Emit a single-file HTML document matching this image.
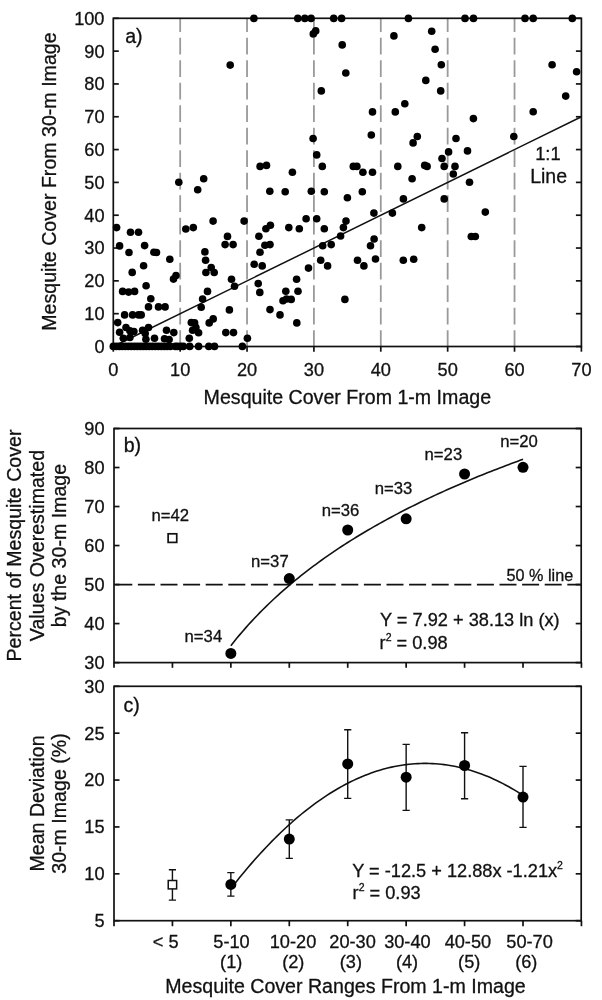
<!DOCTYPE html>
<html><head><meta charset="utf-8"><title>Figure</title>
<style>html,body{margin:0;padding:0;background:#fff;} svg{display:block;will-change:transform;} text{font-family:"Liberation Sans",sans-serif;stroke:#111;stroke-width:0.3px;}</style>
</head><body>
<svg width="602" height="1000" viewBox="0 0 602 1000"><line x1="180.17" y1="346.50" x2="180.17" y2="18.30" stroke="#9a9a9a" stroke-width="1.8" stroke-dasharray="16.8 5.7" stroke-dashoffset="0.6"/>
<line x1="247.04" y1="346.50" x2="247.04" y2="18.30" stroke="#9a9a9a" stroke-width="1.8" stroke-dasharray="16.8 5.7" stroke-dashoffset="0.6"/>
<line x1="313.91" y1="346.50" x2="313.91" y2="18.30" stroke="#9a9a9a" stroke-width="1.8" stroke-dasharray="16.8 5.7" stroke-dashoffset="0.6"/>
<line x1="380.79" y1="346.50" x2="380.79" y2="18.30" stroke="#9a9a9a" stroke-width="1.8" stroke-dasharray="16.8 5.7" stroke-dashoffset="0.6"/>
<line x1="447.66" y1="346.50" x2="447.66" y2="18.30" stroke="#9a9a9a" stroke-width="1.8" stroke-dasharray="16.8 5.7" stroke-dashoffset="0.6"/>
<line x1="514.53" y1="346.50" x2="514.53" y2="18.30" stroke="#9a9a9a" stroke-width="1.8" stroke-dasharray="16.8 5.7" stroke-dashoffset="0.6"/>
<line x1="113.30" y1="346.50" x2="581.40" y2="116.76" stroke="#111" stroke-width="1.5"/>
<rect x="113.30" y="18.30" width="468.10" height="328.20" fill="none" stroke="#111" stroke-width="1.7"/>
<line x1="113.30" y1="346.50" x2="118.80" y2="346.50" stroke="#111" stroke-width="1.7"/>
<line x1="581.40" y1="346.50" x2="575.90" y2="346.50" stroke="#111" stroke-width="1.7"/>
<text x="104.5" y="352.90" text-anchor="end" font-size="18.2" font-family="Liberation Sans, sans-serif" fill="#111">0</text>
<line x1="113.30" y1="313.68" x2="118.80" y2="313.68" stroke="#111" stroke-width="1.7"/>
<line x1="581.40" y1="313.68" x2="575.90" y2="313.68" stroke="#111" stroke-width="1.7"/>
<text x="104.5" y="320.08" text-anchor="end" font-size="18.2" font-family="Liberation Sans, sans-serif" fill="#111">10</text>
<line x1="113.30" y1="280.86" x2="118.80" y2="280.86" stroke="#111" stroke-width="1.7"/>
<line x1="581.40" y1="280.86" x2="575.90" y2="280.86" stroke="#111" stroke-width="1.7"/>
<text x="104.5" y="287.26" text-anchor="end" font-size="18.2" font-family="Liberation Sans, sans-serif" fill="#111">20</text>
<line x1="113.30" y1="248.04" x2="118.80" y2="248.04" stroke="#111" stroke-width="1.7"/>
<line x1="581.40" y1="248.04" x2="575.90" y2="248.04" stroke="#111" stroke-width="1.7"/>
<text x="104.5" y="254.44" text-anchor="end" font-size="18.2" font-family="Liberation Sans, sans-serif" fill="#111">30</text>
<line x1="113.30" y1="215.22" x2="118.80" y2="215.22" stroke="#111" stroke-width="1.7"/>
<line x1="581.40" y1="215.22" x2="575.90" y2="215.22" stroke="#111" stroke-width="1.7"/>
<text x="104.5" y="221.62" text-anchor="end" font-size="18.2" font-family="Liberation Sans, sans-serif" fill="#111">40</text>
<line x1="113.30" y1="182.40" x2="118.80" y2="182.40" stroke="#111" stroke-width="1.7"/>
<line x1="581.40" y1="182.40" x2="575.90" y2="182.40" stroke="#111" stroke-width="1.7"/>
<text x="104.5" y="188.80" text-anchor="end" font-size="18.2" font-family="Liberation Sans, sans-serif" fill="#111">50</text>
<line x1="113.30" y1="149.58" x2="118.80" y2="149.58" stroke="#111" stroke-width="1.7"/>
<line x1="581.40" y1="149.58" x2="575.90" y2="149.58" stroke="#111" stroke-width="1.7"/>
<text x="104.5" y="155.98" text-anchor="end" font-size="18.2" font-family="Liberation Sans, sans-serif" fill="#111">60</text>
<line x1="113.30" y1="116.76" x2="118.80" y2="116.76" stroke="#111" stroke-width="1.7"/>
<line x1="581.40" y1="116.76" x2="575.90" y2="116.76" stroke="#111" stroke-width="1.7"/>
<text x="104.5" y="123.16" text-anchor="end" font-size="18.2" font-family="Liberation Sans, sans-serif" fill="#111">70</text>
<line x1="113.30" y1="83.94" x2="118.80" y2="83.94" stroke="#111" stroke-width="1.7"/>
<line x1="581.40" y1="83.94" x2="575.90" y2="83.94" stroke="#111" stroke-width="1.7"/>
<text x="104.5" y="90.34" text-anchor="end" font-size="18.2" font-family="Liberation Sans, sans-serif" fill="#111">80</text>
<line x1="113.30" y1="51.12" x2="118.80" y2="51.12" stroke="#111" stroke-width="1.7"/>
<line x1="581.40" y1="51.12" x2="575.90" y2="51.12" stroke="#111" stroke-width="1.7"/>
<text x="104.5" y="57.52" text-anchor="end" font-size="18.2" font-family="Liberation Sans, sans-serif" fill="#111">90</text>
<line x1="113.30" y1="18.30" x2="118.80" y2="18.30" stroke="#111" stroke-width="1.7"/>
<line x1="581.40" y1="18.30" x2="575.90" y2="18.30" stroke="#111" stroke-width="1.7"/>
<text x="104.5" y="24.70" text-anchor="end" font-size="18.2" font-family="Liberation Sans, sans-serif" fill="#111">100</text>
<line x1="113.30" y1="346.50" x2="113.30" y2="351.70" stroke="#111" stroke-width="1.7"/>
<text x="113.30" y="376.3" text-anchor="middle" font-size="18.2" font-family="Liberation Sans, sans-serif" fill="#111">0</text>
<line x1="180.17" y1="346.50" x2="180.17" y2="351.70" stroke="#111" stroke-width="1.7"/>
<text x="180.17" y="376.3" text-anchor="middle" font-size="18.2" font-family="Liberation Sans, sans-serif" fill="#111">10</text>
<line x1="247.04" y1="346.50" x2="247.04" y2="351.70" stroke="#111" stroke-width="1.7"/>
<text x="247.04" y="376.3" text-anchor="middle" font-size="18.2" font-family="Liberation Sans, sans-serif" fill="#111">20</text>
<line x1="313.91" y1="346.50" x2="313.91" y2="351.70" stroke="#111" stroke-width="1.7"/>
<text x="313.91" y="376.3" text-anchor="middle" font-size="18.2" font-family="Liberation Sans, sans-serif" fill="#111">30</text>
<line x1="380.79" y1="346.50" x2="380.79" y2="351.70" stroke="#111" stroke-width="1.7"/>
<text x="380.79" y="376.3" text-anchor="middle" font-size="18.2" font-family="Liberation Sans, sans-serif" fill="#111">40</text>
<line x1="447.66" y1="346.50" x2="447.66" y2="351.70" stroke="#111" stroke-width="1.7"/>
<text x="447.66" y="376.3" text-anchor="middle" font-size="18.2" font-family="Liberation Sans, sans-serif" fill="#111">50</text>
<line x1="514.53" y1="346.50" x2="514.53" y2="351.70" stroke="#111" stroke-width="1.7"/>
<text x="514.53" y="376.3" text-anchor="middle" font-size="18.2" font-family="Liberation Sans, sans-serif" fill="#111">60</text>
<line x1="581.40" y1="346.50" x2="581.40" y2="351.70" stroke="#111" stroke-width="1.7"/>
<text x="581.40" y="376.3" text-anchor="middle" font-size="18.2" font-family="Liberation Sans, sans-serif" fill="#111">70</text>
<text x="347.35" y="403.6" text-anchor="middle" font-size="19.6" font-family="Liberation Sans, sans-serif" fill="#111">Mesquite Cover From 1-m Image</text>
<text transform="translate(56.3,181.6) rotate(-90)" x="0" y="0" text-anchor="middle" font-size="19.6" font-family="Liberation Sans, sans-serif" fill="#111">Mesquite Cover From 30-m Image</text>
<text x="125.2" y="43.1" font-size="19.6" font-family="Liberation Sans, sans-serif" fill="#111">a)</text>
<text x="547.9" y="160.3" text-anchor="middle" font-size="18.3" font-family="Liberation Sans, sans-serif" fill="#111">1:1</text>
<text x="548.6" y="183" text-anchor="middle" font-size="19.5" font-family="Liberation Sans, sans-serif" fill="#111">Line</text>
<g fill="#000"><circle cx="253.9" cy="18.4" r="3.8"/><circle cx="297.8" cy="18.4" r="3.8"/><circle cx="304.8" cy="18.4" r="3.8"/><circle cx="311.1" cy="18.4" r="3.8"/><circle cx="333.7" cy="18.4" r="3.8"/><circle cx="341.6" cy="18.4" r="3.8"/><circle cx="408.4" cy="18.4" r="3.8"/><circle cx="465.0" cy="18.4" r="3.8"/><circle cx="473.5" cy="18.4" r="3.8"/><circle cx="525.0" cy="18.4" r="3.8"/><circle cx="533.2" cy="18.4" r="3.8"/><circle cx="572.3" cy="18.4" r="3.8"/><circle cx="230.2" cy="65.1" r="3.8"/><circle cx="315.7" cy="30.9" r="3.8"/><circle cx="313.3" cy="33.9" r="3.8"/><circle cx="342.2" cy="44.9" r="3.8"/><circle cx="345.8" cy="73.0" r="3.8"/><circle cx="321.3" cy="90.9" r="3.8"/><circle cx="393.9" cy="35.9" r="3.8"/><circle cx="431.7" cy="31.3" r="3.8"/><circle cx="435.1" cy="49.3" r="3.8"/><circle cx="441.3" cy="64.8" r="3.8"/><circle cx="425.8" cy="80.4" r="3.8"/><circle cx="440.7" cy="90.9" r="3.8"/><circle cx="404.8" cy="103.7" r="3.8"/><circle cx="395.3" cy="111.9" r="3.8"/><circle cx="372.5" cy="111.9" r="3.8"/><circle cx="552.1" cy="64.8" r="3.8"/><circle cx="576.6" cy="71.8" r="3.8"/><circle cx="565.7" cy="96.1" r="3.8"/><circle cx="533.2" cy="111.7" r="3.8"/><circle cx="473.4" cy="118.6" r="3.8"/><circle cx="178.8" cy="182.2" r="3.8"/><circle cx="203.7" cy="178.8" r="3.8"/><circle cx="197.7" cy="189.8" r="3.8"/><circle cx="116.6" cy="227.6" r="3.8"/><circle cx="130.5" cy="232.2" r="3.8"/><circle cx="138.5" cy="232.2" r="3.8"/><circle cx="185.8" cy="229.0" r="3.8"/><circle cx="193.3" cy="227.6" r="3.8"/><circle cx="213.1" cy="221.1" r="3.8"/><circle cx="227.5" cy="236.4" r="3.8"/><circle cx="313.1" cy="138.5" r="3.8"/><circle cx="316.7" cy="154.9" r="3.8"/><circle cx="322.3" cy="166.4" r="3.8"/><circle cx="260.1" cy="166.4" r="3.8"/><circle cx="266.5" cy="165.4" r="3.8"/><circle cx="292.4" cy="172.2" r="3.8"/><circle cx="269.8" cy="191.2" r="3.8"/><circle cx="285.2" cy="191.8" r="3.8"/><circle cx="311.3" cy="191.2" r="3.8"/><circle cx="324.3" cy="191.8" r="3.8"/><circle cx="244.1" cy="221.1" r="3.8"/><circle cx="270.4" cy="225.2" r="3.8"/><circle cx="265.9" cy="228.8" r="3.8"/><circle cx="288.8" cy="227.6" r="3.8"/><circle cx="299.3" cy="228.8" r="3.8"/><circle cx="306.1" cy="218.7" r="3.8"/><circle cx="316.7" cy="218.7" r="3.8"/><circle cx="324.3" cy="228.8" r="3.8"/><circle cx="258.9" cy="236.2" r="3.8"/><circle cx="371.3" cy="135.0" r="3.8"/><circle cx="417.3" cy="136.5" r="3.8"/><circle cx="413.1" cy="142.9" r="3.8"/><circle cx="456.0" cy="138.5" r="3.8"/><circle cx="448.6" cy="151.9" r="3.8"/><circle cx="442.0" cy="158.5" r="3.8"/><circle cx="444.2" cy="166.4" r="3.8"/><circle cx="455.0" cy="166.4" r="3.8"/><circle cx="453.3" cy="174.0" r="3.8"/><circle cx="353.3" cy="166.4" r="3.8"/><circle cx="356.9" cy="166.4" r="3.8"/><circle cx="362.9" cy="172.2" r="3.8"/><circle cx="372.5" cy="172.2" r="3.8"/><circle cx="397.8" cy="166.4" r="3.8"/><circle cx="424.7" cy="165.4" r="3.8"/><circle cx="427.1" cy="166.4" r="3.8"/><circle cx="412.1" cy="178.8" r="3.8"/><circle cx="347.4" cy="197.7" r="3.8"/><circle cx="362.3" cy="191.8" r="3.8"/><circle cx="403.4" cy="198.9" r="3.8"/><circle cx="444.2" cy="198.9" r="3.8"/><circle cx="373.9" cy="213.1" r="3.8"/><circle cx="392.4" cy="213.1" r="3.8"/><circle cx="346.0" cy="221.1" r="3.8"/><circle cx="343.4" cy="227.6" r="3.8"/><circle cx="340.6" cy="236.0" r="3.8"/><circle cx="421.7" cy="227.6" r="3.8"/><circle cx="467.5" cy="150.9" r="3.8"/><circle cx="513.8" cy="136.5" r="3.8"/><circle cx="469.5" cy="182.2" r="3.8"/><circle cx="485.3" cy="212.1" r="3.8"/><circle cx="471.3" cy="236.5" r="3.8"/><circle cx="475.3" cy="236.5" r="3.8"/><circle cx="119.6" cy="245.9" r="3.8"/><circle cx="144.6" cy="245.6" r="3.8"/><circle cx="129.0" cy="252.5" r="3.8"/><circle cx="153.9" cy="252.2" r="3.8"/><circle cx="156.5" cy="252.5" r="3.8"/><circle cx="169.8" cy="259.2" r="3.8"/><circle cx="143.6" cy="265.8" r="3.8"/><circle cx="132.2" cy="272.4" r="3.8"/><circle cx="176.0" cy="275.5" r="3.8"/><circle cx="173.5" cy="279.1" r="3.8"/><circle cx="146.1" cy="285.7" r="3.8"/><circle cx="122.6" cy="291.4" r="3.8"/><circle cx="128.6" cy="292.1" r="3.8"/><circle cx="134.6" cy="291.4" r="3.8"/><circle cx="150.8" cy="298.8" r="3.8"/><circle cx="148.5" cy="306.9" r="3.8"/><circle cx="158.5" cy="306.9" r="3.8"/><circle cx="165.1" cy="306.9" r="3.8"/><circle cx="124.6" cy="314.9" r="3.8"/><circle cx="132.6" cy="314.9" r="3.8"/><circle cx="138.6" cy="314.9" r="3.8"/><circle cx="141.2" cy="314.9" r="3.8"/><circle cx="117.7" cy="322.6" r="3.8"/><circle cx="126.0" cy="327.5" r="3.8"/><circle cx="129.9" cy="330.8" r="3.8"/><circle cx="133.9" cy="331.5" r="3.8"/><circle cx="119.6" cy="332.2" r="3.8"/><circle cx="123.3" cy="338.2" r="3.8"/><circle cx="129.9" cy="337.5" r="3.8"/><circle cx="142.6" cy="330.2" r="3.8"/><circle cx="148.5" cy="327.5" r="3.8"/><circle cx="145.2" cy="333.5" r="3.8"/><circle cx="145.9" cy="339.2" r="3.8"/><circle cx="154.5" cy="338.2" r="3.8"/><circle cx="164.5" cy="338.8" r="3.8"/><circle cx="169.1" cy="339.5" r="3.8"/><circle cx="166.5" cy="330.2" r="3.8"/><circle cx="173.8" cy="332.6" r="3.8"/><circle cx="207.5" cy="291.4" r="3.8"/><circle cx="202.6" cy="299.0" r="3.8"/><circle cx="201.2" cy="307.3" r="3.8"/><circle cx="234.5" cy="286.3" r="3.8"/><circle cx="229.4" cy="309.9" r="3.8"/><circle cx="213.2" cy="318.9" r="3.8"/><circle cx="209.2" cy="322.9" r="3.8"/><circle cx="191.3" cy="322.6" r="3.8"/><circle cx="194.6" cy="322.9" r="3.8"/><circle cx="195.9" cy="327.5" r="3.8"/><circle cx="192.6" cy="330.2" r="3.8"/><circle cx="198.6" cy="332.8" r="3.8"/><circle cx="189.3" cy="338.2" r="3.8"/><circle cx="225.8" cy="332.6" r="3.8"/><circle cx="233.5" cy="332.6" r="3.8"/><circle cx="247.4" cy="338.2" r="3.8"/><circle cx="225.1" cy="244.6" r="3.8"/><circle cx="233.1" cy="244.6" r="3.8"/><circle cx="204.9" cy="251.9" r="3.8"/><circle cx="205.6" cy="260.3" r="3.8"/><circle cx="211.2" cy="267.6" r="3.8"/><circle cx="205.9" cy="272.5" r="3.8"/><circle cx="214.2" cy="272.5" r="3.8"/><circle cx="231.5" cy="279.2" r="3.8"/><circle cx="264.9" cy="245.3" r="3.8"/><circle cx="270.0" cy="244.6" r="3.8"/><circle cx="260.0" cy="252.3" r="3.8"/><circle cx="254.2" cy="264.3" r="3.8"/><circle cx="262.2" cy="265.9" r="3.8"/><circle cx="258.2" cy="283.6" r="3.8"/><circle cx="259.8" cy="292.4" r="3.8"/><circle cx="322.7" cy="245.7" r="3.8"/><circle cx="320.7" cy="260.3" r="3.8"/><circle cx="327.6" cy="265.9" r="3.8"/><circle cx="308.5" cy="268.1" r="3.8"/><circle cx="296.6" cy="279.2" r="3.8"/><circle cx="285.8" cy="291.2" r="3.8"/><circle cx="298.0" cy="291.2" r="3.8"/><circle cx="283.0" cy="300.7" r="3.8"/><circle cx="286.5" cy="299.0" r="3.8"/><circle cx="291.2" cy="299.4" r="3.8"/><circle cx="270.0" cy="309.6" r="3.8"/><circle cx="280.0" cy="314.9" r="3.8"/><circle cx="296.8" cy="322.9" r="3.8"/><circle cx="331.2" cy="244.6" r="3.8"/><circle cx="374.1" cy="239.0" r="3.8"/><circle cx="370.5" cy="245.7" r="3.8"/><circle cx="357.5" cy="260.3" r="3.8"/><circle cx="363.9" cy="265.9" r="3.8"/><circle cx="375.5" cy="259.0" r="3.8"/><circle cx="344.9" cy="299.4" r="3.8"/><circle cx="403.3" cy="260.3" r="3.8"/><circle cx="413.7" cy="259.3" r="3.8"/><circle cx="113.3" cy="346.4" r="3.8"/><circle cx="116.3" cy="346.4" r="3.8"/><circle cx="119.3" cy="346.4" r="3.8"/><circle cx="122.3" cy="346.4" r="3.8"/><circle cx="125.3" cy="346.4" r="3.8"/><circle cx="128.3" cy="346.4" r="3.8"/><circle cx="131.3" cy="346.4" r="3.8"/><circle cx="134.3" cy="346.4" r="3.8"/><circle cx="137.3" cy="346.4" r="3.8"/><circle cx="140.3" cy="346.4" r="3.8"/><circle cx="143.3" cy="346.4" r="3.8"/><circle cx="146.3" cy="346.4" r="3.8"/><circle cx="149.3" cy="346.4" r="3.8"/><circle cx="152.3" cy="346.4" r="3.8"/><circle cx="155.3" cy="346.4" r="3.8"/><circle cx="158.3" cy="346.4" r="3.8"/><circle cx="161.3" cy="346.4" r="3.8"/><circle cx="164.3" cy="346.4" r="3.8"/><circle cx="167.3" cy="346.4" r="3.8"/><circle cx="170.3" cy="346.4" r="3.8"/><circle cx="175.3" cy="346.4" r="3.8"/><circle cx="177.5" cy="346.4" r="3.8"/><circle cx="180.6" cy="346.4" r="3.8"/><circle cx="183.3" cy="346.4" r="3.8"/><circle cx="189.7" cy="346.4" r="3.8"/><circle cx="198.6" cy="346.4" r="3.8"/><circle cx="208.8" cy="346.4" r="3.8"/><circle cx="214.5" cy="346.4" r="3.8"/><circle cx="242.4" cy="346.4" r="3.8"/></g>
<line x1="114.00" y1="584.57" x2="581.20" y2="584.57" stroke="#111" stroke-width="1.8" stroke-dasharray="17 5.6" stroke-dashoffset="-1.30"/>
<polyline points="230.86,645.63 233.78,641.96 236.70,638.37 239.62,634.87 242.55,631.45 245.47,628.11 248.39,624.84 251.31,621.64 254.23,618.50 257.15,615.44 260.07,612.43 263.00,609.49 265.92,606.60 268.84,603.76 271.76,600.98 274.68,598.25 277.60,595.57 280.53,592.94 283.45,590.35 286.37,587.81 289.29,585.31 292.21,582.85 295.13,580.43 298.05,578.05 300.98,575.71 303.90,573.40 306.82,571.13 309.74,568.89 312.66,566.69 315.58,564.52 318.50,562.37 321.43,560.26 324.35,558.18 327.27,556.13 330.19,554.11 333.11,552.11 336.03,550.14 338.96,548.20 341.88,546.28 344.80,544.38 347.72,542.51 350.64,540.66 353.56,538.84 356.48,537.03 359.41,535.25 362.33,533.49 365.25,531.75 368.17,530.03 371.09,528.33 374.01,526.65 376.94,524.99 379.86,523.34 382.78,521.72 385.70,520.11 388.62,518.52 391.54,516.94 394.46,515.38 397.39,513.84 400.31,512.32 403.23,510.81 406.15,509.31 409.07,507.83 411.99,506.37 414.91,504.91 417.84,503.48 420.76,502.05 423.68,500.64 426.60,499.25 429.52,497.86 432.44,496.49 435.37,495.13 438.29,493.79 441.21,492.45 444.13,491.13 447.05,489.82 449.97,488.52 452.89,487.23 455.82,485.95 458.74,484.69 461.66,483.43 464.58,482.19 467.50,480.95 470.42,479.73 473.34,478.51 476.27,477.31 479.19,476.11 482.11,474.93 485.03,473.75 487.95,472.59 490.87,471.43 493.80,470.28 496.72,469.14 499.64,468.01 502.56,466.89 505.48,465.77 508.40,464.67 511.32,463.57 514.25,462.48 517.17,461.40 520.09,460.32 523.01,459.25" fill="none" stroke="#111" stroke-width="1.6"/>
<rect x="114.00" y="428.50" width="467.20" height="234.10" fill="none" stroke="#111" stroke-width="1.7"/>
<line x1="114.00" y1="662.60" x2="119.50" y2="662.60" stroke="#111" stroke-width="1.7"/>
<line x1="581.20" y1="662.60" x2="575.70" y2="662.60" stroke="#111" stroke-width="1.7"/>
<text x="104.5" y="669.00" text-anchor="end" font-size="18.2" font-family="Liberation Sans, sans-serif" fill="#111">30</text>
<line x1="114.00" y1="623.58" x2="119.50" y2="623.58" stroke="#111" stroke-width="1.7"/>
<line x1="581.20" y1="623.58" x2="575.70" y2="623.58" stroke="#111" stroke-width="1.7"/>
<text x="104.5" y="629.98" text-anchor="end" font-size="18.2" font-family="Liberation Sans, sans-serif" fill="#111">40</text>
<line x1="114.00" y1="584.57" x2="119.50" y2="584.57" stroke="#111" stroke-width="1.7"/>
<line x1="581.20" y1="584.57" x2="575.70" y2="584.57" stroke="#111" stroke-width="1.7"/>
<text x="104.5" y="590.97" text-anchor="end" font-size="18.2" font-family="Liberation Sans, sans-serif" fill="#111">50</text>
<line x1="114.00" y1="545.55" x2="119.50" y2="545.55" stroke="#111" stroke-width="1.7"/>
<line x1="581.20" y1="545.55" x2="575.70" y2="545.55" stroke="#111" stroke-width="1.7"/>
<text x="104.5" y="551.95" text-anchor="end" font-size="18.2" font-family="Liberation Sans, sans-serif" fill="#111">60</text>
<line x1="114.00" y1="506.53" x2="119.50" y2="506.53" stroke="#111" stroke-width="1.7"/>
<line x1="581.20" y1="506.53" x2="575.70" y2="506.53" stroke="#111" stroke-width="1.7"/>
<text x="104.5" y="512.93" text-anchor="end" font-size="18.2" font-family="Liberation Sans, sans-serif" fill="#111">70</text>
<line x1="114.00" y1="467.52" x2="119.50" y2="467.52" stroke="#111" stroke-width="1.7"/>
<line x1="581.20" y1="467.52" x2="575.70" y2="467.52" stroke="#111" stroke-width="1.7"/>
<text x="104.5" y="473.92" text-anchor="end" font-size="18.2" font-family="Liberation Sans, sans-serif" fill="#111">80</text>
<line x1="114.00" y1="428.50" x2="119.50" y2="428.50" stroke="#111" stroke-width="1.7"/>
<line x1="581.20" y1="428.50" x2="575.70" y2="428.50" stroke="#111" stroke-width="1.7"/>
<text x="104.5" y="434.90" text-anchor="end" font-size="18.2" font-family="Liberation Sans, sans-serif" fill="#111">90</text>
<line x1="114.00" y1="662.60" x2="114.00" y2="667.80" stroke="#111" stroke-width="1.7"/>
<line x1="172.43" y1="662.60" x2="172.43" y2="667.80" stroke="#111" stroke-width="1.7"/>
<line x1="230.86" y1="662.60" x2="230.86" y2="667.80" stroke="#111" stroke-width="1.7"/>
<line x1="289.29" y1="662.60" x2="289.29" y2="667.80" stroke="#111" stroke-width="1.7"/>
<line x1="347.72" y1="662.60" x2="347.72" y2="667.80" stroke="#111" stroke-width="1.7"/>
<line x1="406.15" y1="662.60" x2="406.15" y2="667.80" stroke="#111" stroke-width="1.7"/>
<line x1="464.58" y1="662.60" x2="464.58" y2="667.80" stroke="#111" stroke-width="1.7"/>
<line x1="523.01" y1="662.60" x2="523.01" y2="667.80" stroke="#111" stroke-width="1.7"/>
<line x1="581.44" y1="662.60" x2="581.44" y2="667.80" stroke="#111" stroke-width="1.7"/>
<rect x="168.13" y="533.80" width="8.6" height="8.6" fill="#fff" stroke="#111" stroke-width="1.7"/>
<circle cx="230.86" cy="653.4" r="5.5" fill="#000"/>
<circle cx="289.29" cy="578.6" r="5.5" fill="#000"/>
<circle cx="347.72" cy="530.0" r="5.5" fill="#000"/>
<circle cx="406.15" cy="518.8" r="5.5" fill="#000"/>
<circle cx="464.58" cy="474.0" r="5.5" fill="#000"/>
<circle cx="523.01" cy="467.3" r="5.5" fill="#000"/>
<text x="170.2" y="520.5" text-anchor="middle" font-size="16.7" font-family="Liberation Sans, sans-serif" fill="#111">n=42</text>
<text x="203.4" y="642.2" text-anchor="middle" font-size="16.7" font-family="Liberation Sans, sans-serif" fill="#111">n=34</text>
<text x="269.9" y="567.4" text-anchor="middle" font-size="16.7" font-family="Liberation Sans, sans-serif" fill="#111">n=37</text>
<text x="340.5" y="515.5" text-anchor="middle" font-size="16.7" font-family="Liberation Sans, sans-serif" fill="#111">n=36</text>
<text x="393.5" y="493.9" text-anchor="middle" font-size="16.7" font-family="Liberation Sans, sans-serif" fill="#111">n=33</text>
<text x="443.4" y="460.3" text-anchor="middle" font-size="16.7" font-family="Liberation Sans, sans-serif" fill="#111">n=23</text>
<text x="519" y="447" text-anchor="middle" font-size="16.7" font-family="Liberation Sans, sans-serif" fill="#111">n=20</text>
<text x="573.2" y="581.3" text-anchor="end" font-size="16.2" font-family="Liberation Sans, sans-serif" fill="#111">50 % line</text>
<text x="380" y="625.9" font-size="18.2" font-family="Liberation Sans, sans-serif" fill="#111">Y = 7.92 + 38.13 ln (x)</text>
<text x="379.6" y="648.6" font-size="18.2" font-family="Liberation Sans, sans-serif" fill="#111">r<tspan font-size="10.5" dy="-8">2</tspan><tspan dy="8"> = 0.98</tspan></text>
<text x="123.7" y="451.5" font-size="19.6" font-family="Liberation Sans, sans-serif" fill="#111">b)</text>
<text transform="translate(20.9,545.55) rotate(-90)" text-anchor="middle" font-size="19.6" font-family="Liberation Sans, sans-serif" fill="#111">Percent of Mesquite Cover</text>
<text transform="translate(43.6,545.55) rotate(-90)" text-anchor="middle" font-size="19.6" font-family="Liberation Sans, sans-serif" fill="#111">Values Overestimated</text>
<text transform="translate(66.3,545.55) rotate(-90)" text-anchor="middle" font-size="19.6" font-family="Liberation Sans, sans-serif" fill="#111">by the 30-m Image</text>
<polyline points="230.86,888.63 233.78,884.89 236.70,881.21 239.62,877.58 242.55,874.01 245.47,870.50 248.39,867.04 251.31,863.64 254.23,860.30 257.15,857.01 260.07,853.78 263.00,850.61 265.92,847.49 268.84,844.43 271.76,841.42 274.68,838.48 277.60,835.59 280.53,832.76 283.45,829.98 286.37,827.26 289.29,824.60 292.21,821.99 295.13,819.44 298.05,816.95 300.98,814.51 303.90,812.13 306.82,809.81 309.74,807.54 312.66,805.33 315.58,803.18 318.50,801.09 321.43,799.05 324.35,797.06 327.27,795.14 330.19,793.27 333.11,791.46 336.03,789.70 338.96,788.00 341.88,786.36 344.80,784.78 347.72,783.25 350.64,781.78 353.56,780.36 356.48,779.00 359.41,777.70 362.33,776.46 365.25,775.27 368.17,774.14 371.09,773.06 374.01,772.04 376.94,771.08 379.86,770.18 382.78,769.33 385.70,768.54 388.62,767.80 391.54,767.13 394.46,766.51 397.39,765.94 400.31,765.43 403.23,764.98 406.15,764.59 409.07,764.25 411.99,763.97 414.91,763.75 417.84,763.58 420.76,763.47 423.68,763.42 426.60,763.42 429.52,763.48 432.44,763.60 435.37,763.77 438.29,764.00 441.21,764.29 444.13,764.63 447.05,765.03 449.97,765.49 452.89,766.00 455.82,766.57 458.74,767.20 461.66,767.88 464.58,768.62 467.50,769.42 470.42,770.27 473.34,771.18 476.27,772.15 479.19,773.17 482.11,774.26 485.03,775.39 487.95,776.59 490.87,777.84 493.80,779.15 496.72,780.51 499.64,781.93 502.56,783.41 505.48,784.94 508.40,786.54 511.32,788.18 514.25,789.89 517.17,791.65 520.09,793.47 523.01,795.34" fill="none" stroke="#111" stroke-width="1.6"/>
<rect x="114.00" y="686.30" width="467.20" height="234.40" fill="none" stroke="#111" stroke-width="1.7"/>
<line x1="114.00" y1="920.70" x2="119.50" y2="920.70" stroke="#111" stroke-width="1.7"/>
<line x1="581.20" y1="920.70" x2="575.70" y2="920.70" stroke="#111" stroke-width="1.7"/>
<text x="104.5" y="927.10" text-anchor="end" font-size="18.2" font-family="Liberation Sans, sans-serif" fill="#111">5</text>
<line x1="114.00" y1="873.82" x2="119.50" y2="873.82" stroke="#111" stroke-width="1.7"/>
<line x1="581.20" y1="873.82" x2="575.70" y2="873.82" stroke="#111" stroke-width="1.7"/>
<text x="104.5" y="880.22" text-anchor="end" font-size="18.2" font-family="Liberation Sans, sans-serif" fill="#111">10</text>
<line x1="114.00" y1="826.94" x2="119.50" y2="826.94" stroke="#111" stroke-width="1.7"/>
<line x1="581.20" y1="826.94" x2="575.70" y2="826.94" stroke="#111" stroke-width="1.7"/>
<text x="104.5" y="833.34" text-anchor="end" font-size="18.2" font-family="Liberation Sans, sans-serif" fill="#111">15</text>
<line x1="114.00" y1="780.06" x2="119.50" y2="780.06" stroke="#111" stroke-width="1.7"/>
<line x1="581.20" y1="780.06" x2="575.70" y2="780.06" stroke="#111" stroke-width="1.7"/>
<text x="104.5" y="786.46" text-anchor="end" font-size="18.2" font-family="Liberation Sans, sans-serif" fill="#111">20</text>
<line x1="114.00" y1="733.18" x2="119.50" y2="733.18" stroke="#111" stroke-width="1.7"/>
<line x1="581.20" y1="733.18" x2="575.70" y2="733.18" stroke="#111" stroke-width="1.7"/>
<text x="104.5" y="739.58" text-anchor="end" font-size="18.2" font-family="Liberation Sans, sans-serif" fill="#111">25</text>
<line x1="114.00" y1="686.30" x2="119.50" y2="686.30" stroke="#111" stroke-width="1.7"/>
<line x1="581.20" y1="686.30" x2="575.70" y2="686.30" stroke="#111" stroke-width="1.7"/>
<text x="104.5" y="692.70" text-anchor="end" font-size="18.2" font-family="Liberation Sans, sans-serif" fill="#111">30</text>
<line x1="114.00" y1="920.70" x2="114.00" y2="926.20" stroke="#111" stroke-width="1.7"/>
<line x1="172.43" y1="920.70" x2="172.43" y2="926.20" stroke="#111" stroke-width="1.7"/>
<line x1="230.86" y1="920.70" x2="230.86" y2="926.20" stroke="#111" stroke-width="1.7"/>
<line x1="289.29" y1="920.70" x2="289.29" y2="926.20" stroke="#111" stroke-width="1.7"/>
<line x1="347.72" y1="920.70" x2="347.72" y2="926.20" stroke="#111" stroke-width="1.7"/>
<line x1="406.15" y1="920.70" x2="406.15" y2="926.20" stroke="#111" stroke-width="1.7"/>
<line x1="464.58" y1="920.70" x2="464.58" y2="926.20" stroke="#111" stroke-width="1.7"/>
<line x1="523.01" y1="920.70" x2="523.01" y2="926.20" stroke="#111" stroke-width="1.7"/>
<line x1="581.44" y1="920.70" x2="581.44" y2="926.20" stroke="#111" stroke-width="1.7"/>
<text x="165.70" y="947.8" text-anchor="middle" font-size="18.2" font-family="Liberation Sans, sans-serif" fill="#111">&lt; 5</text>
<text x="231.50" y="947.8" text-anchor="middle" font-size="18.2" font-family="Liberation Sans, sans-serif" fill="#111">5-10</text>
<text x="231.20" y="967.8" text-anchor="middle" font-size="18.2" font-family="Liberation Sans, sans-serif" fill="#111">(1)</text>
<text x="293.00" y="947.8" text-anchor="middle" font-size="18.2" font-family="Liberation Sans, sans-serif" fill="#111">10-20</text>
<text x="293.30" y="967.8" text-anchor="middle" font-size="18.2" font-family="Liberation Sans, sans-serif" fill="#111">(2)</text>
<text x="352.60" y="947.8" text-anchor="middle" font-size="18.2" font-family="Liberation Sans, sans-serif" fill="#111">20-30</text>
<text x="350.90" y="967.8" text-anchor="middle" font-size="18.2" font-family="Liberation Sans, sans-serif" fill="#111">(3)</text>
<text x="407.40" y="947.8" text-anchor="middle" font-size="18.2" font-family="Liberation Sans, sans-serif" fill="#111">30-40</text>
<text x="407.00" y="967.8" text-anchor="middle" font-size="18.2" font-family="Liberation Sans, sans-serif" fill="#111">(4)</text>
<text x="467.90" y="947.8" text-anchor="middle" font-size="18.2" font-family="Liberation Sans, sans-serif" fill="#111">40-50</text>
<text x="469.20" y="967.8" text-anchor="middle" font-size="18.2" font-family="Liberation Sans, sans-serif" fill="#111">(5)</text>
<text x="529.60" y="947.8" text-anchor="middle" font-size="18.2" font-family="Liberation Sans, sans-serif" fill="#111">50-70</text>
<text x="526.30" y="967.8" text-anchor="middle" font-size="18.2" font-family="Liberation Sans, sans-serif" fill="#111">(6)</text>
<path d="M172.43,869.8 V900.1 M168.83,869.8 H176.03 M168.83,900.1 H176.03" stroke="#111" stroke-width="1.4" fill="none"/>
<rect x="168.23" y="880.50" width="8.4" height="8.4" fill="#fff" stroke="#111" stroke-width="1.5"/>
<path d="M230.86,872.6 V896.1 M227.26,872.6 H234.46 M227.26,896.1 H234.46" stroke="#111" stroke-width="1.4" fill="none"/>
<circle cx="230.86" cy="884.4" r="5.5" fill="#000"/>
<path d="M289.29,819.9 V858.4 M285.69,819.9 H292.89 M285.69,858.4 H292.89" stroke="#111" stroke-width="1.4" fill="none"/>
<circle cx="289.29" cy="839.1" r="5.5" fill="#000"/>
<path d="M347.72,729.8 V798.4 M344.12,729.8 H351.32 M344.12,798.4 H351.32" stroke="#111" stroke-width="1.4" fill="none"/>
<circle cx="347.72" cy="763.9" r="5.5" fill="#000"/>
<path d="M406.15,744.4 V810.4 M402.55,744.4 H409.75 M402.55,810.4 H409.75" stroke="#111" stroke-width="1.4" fill="none"/>
<circle cx="406.15" cy="777.2" r="5.5" fill="#000"/>
<path d="M464.58,732.7 V798.8 M460.98,732.7 H468.18 M460.98,798.8 H468.18" stroke="#111" stroke-width="1.4" fill="none"/>
<circle cx="464.58" cy="765.5" r="5.5" fill="#000"/>
<path d="M523.01,766.4 V827.4 M519.41,766.4 H526.61 M519.41,827.4 H526.61" stroke="#111" stroke-width="1.4" fill="none"/>
<circle cx="523.01" cy="797.1" r="5.5" fill="#000"/>
<text x="352.2" y="877.3" font-size="18.2" font-family="Liberation Sans, sans-serif" fill="#111">Y = -12.5 + 12.88x -1.21x<tspan font-size="10.5" dy="-8">2</tspan></text>
<text x="352.6" y="898.9" font-size="18.2" font-family="Liberation Sans, sans-serif" fill="#111">r<tspan font-size="10.5" dy="-8">2</tspan><tspan dy="8"> = 0.93</tspan></text>
<text x="123.5" y="711.5" font-size="19.6" font-family="Liberation Sans, sans-serif" fill="#111">c)</text>
<text transform="translate(43.6,803.50) rotate(-90)" text-anchor="middle" font-size="19.6" font-family="Liberation Sans, sans-serif" fill="#111">Mean Deviation</text>
<text transform="translate(66.3,803.50) rotate(-90)" text-anchor="middle" font-size="19.6" font-family="Liberation Sans, sans-serif" fill="#111">30-m Image (%)</text>
<text x="345.5" y="993.4" text-anchor="middle" font-size="19.6" font-family="Liberation Sans, sans-serif" fill="#111">Mesquite Cover Ranges From 1-m Image</text></svg>
</body></html>
